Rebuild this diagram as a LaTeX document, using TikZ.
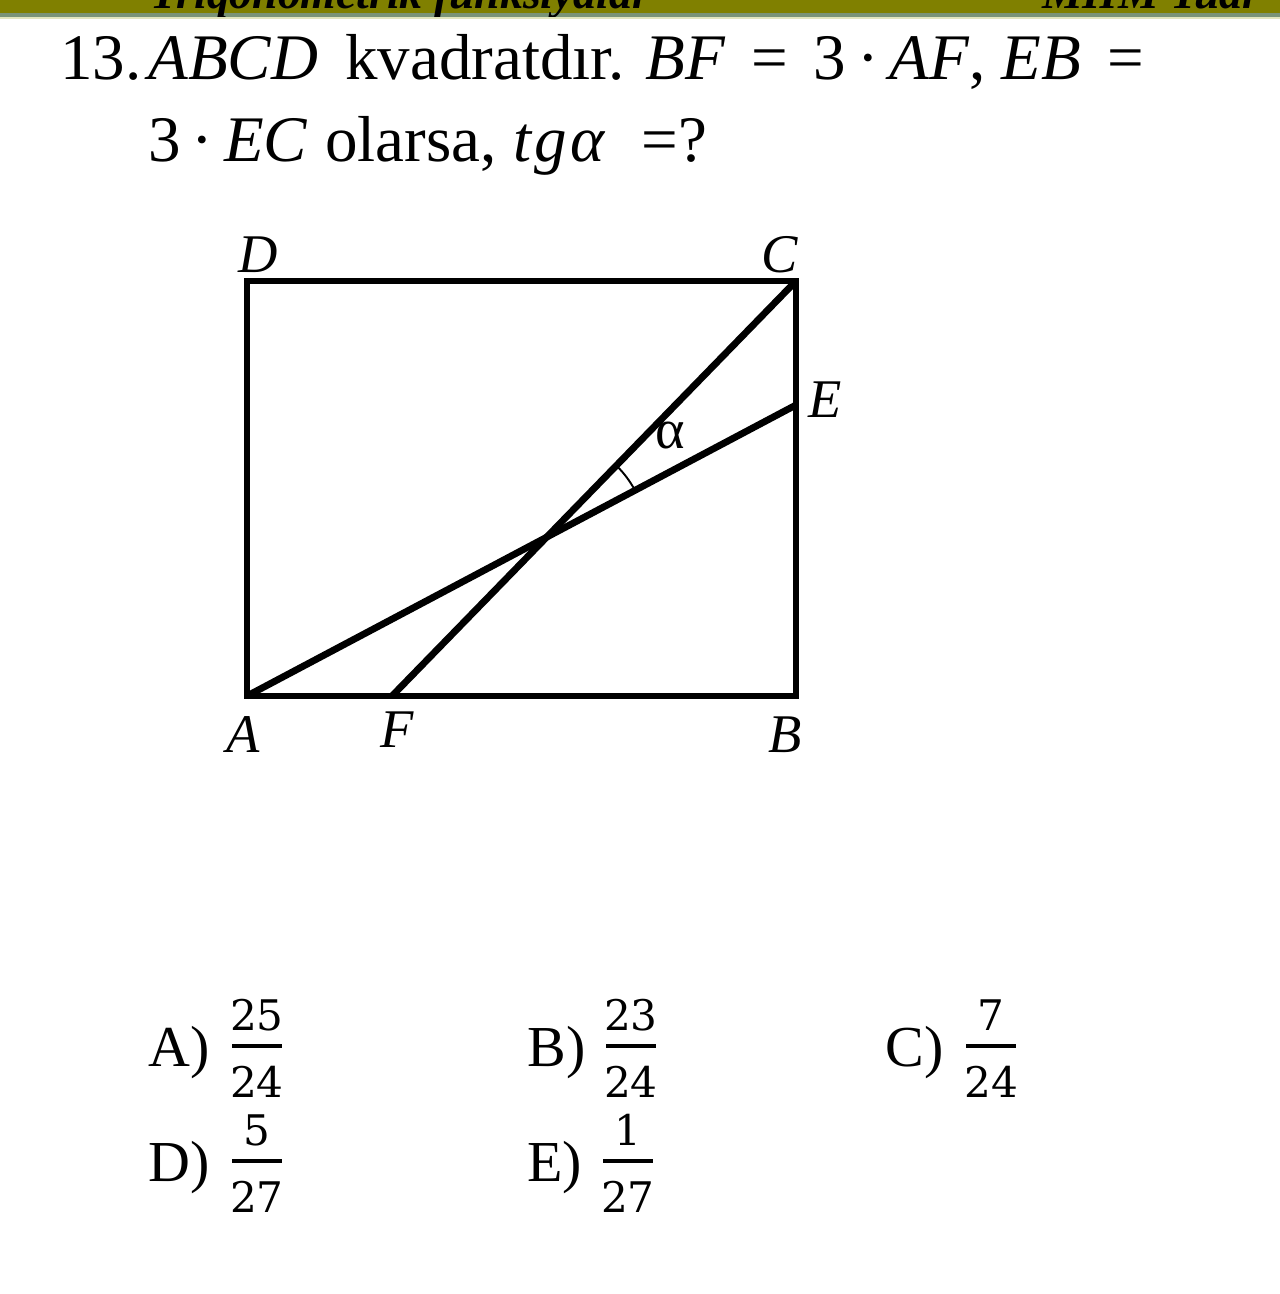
\documentclass[tikz,border=0pt]{standalone}
\usepackage{fontspec}
\setmainfont{Liberation Serif}
\newfontfamily\digitfont{DejaVu Serif}
\usetikzlibrary{angles, calc}
\definecolor{headolive}{RGB}{128,128,0}
\definecolor{headstripe}{RGB}{122,148,120}
\definecolor{headlight}{RGB}{226,230,190}
\newcommand{\eqsp}{\hspace{0.4em}}

\begin{document}
\begin{tikzpicture}[x=0.02cm, y=-0.02cm,
    edge/.style={line width=3.9pt, line join=miter},
    headtext/.style={font=\fontsize{26}{30}\selectfont\bfseries\itshape, anchor=base west, inner sep=0pt},
    qtext/.style={font=\fontsize{37}{44}\selectfont, anchor=base west, inner sep=0pt},
    ptlabel/.style={font=\fontsize{31}{36}\selectfont\itshape, inner sep=0pt},
    anstext/.style={font=\fontsize{33}{40}\selectfont, anchor=base west, inner sep=0pt},
    fractext/.style={font=\digitfont\fontsize{24}{28}\selectfont, anchor=base, inner sep=0pt}]

  % page
  \fill[white] (0,0) rectangle (1280,1294);
  \useasboundingbox (0,0) rectangle (1280,1294);

  % header bar (cut off at the top)
  \fill[headolive] (0,0) rectangle (1280,13);
  \fill[headstripe] (0,13) rectangle (1280,17);
  \fill[headlight] (0,17) rectangle (1280,19);
  \begin{scope}
    \clip (0,0) rectangle (1280,17);
    \node[headtext] (title) at (150,9) {Triqonometrik funksiyalar};
    \node[headtext] (series) at (1042,9) {MHM Yuar};
  \end{scope}

  % question
  \node[qtext] (qnum) at (60,80) {13.};
  \node[qtext] (qsq) at (148,80) {\textit{ABCD}};
  \node[qtext] (qword) at (345,80) {kvadratdır.};
  \node[qtext] (qcond) at (645,80)
    {\textit{BF}\eqsp=\eqsp3\,·\,\textit{AF}, \textit{EB}\eqsp=};
  \node[qtext] (qcond2) at (148,162) {3\,·\,\textit{EC}};
  \node[qtext] (qword2) at (325,162) {olarsa,};
  \node[qtext] (qask) at (513,162) {\textit{t\kern2pt g\kern2pt α}\hspace{0.55em}=?};

  % figure
  \coordinate (A) at (247,696);
  \coordinate (B) at (796,696);
  \coordinate (C) at (796,281);
  \coordinate (D) at (247,281);
  \coordinate (E) at (796,405);
  \coordinate (F) at (392,696);
  \draw[edge] (A) -- (B) -- (C) -- (D) -- cycle;
  \draw[edge] (A) -- (E);
  \draw[edge] (F) -- (C);
  \coordinate (P) at (intersection of A--E and F--C);
  \pic[draw, line width=1.1pt, angle radius=2cm] {angle=E--P--C};

  \node[ptlabel] (labD) at (258,255) {D};
  \node[ptlabel] (labC) at (780,255) {C};
  \node[ptlabel] (labE) at (825,400) {E};
  \node[ptlabel] (labA) at (243,735) {A};
  \node[ptlabel] (labF) at (397,730) {F};
  \node[ptlabel] (labB) at (785,735) {B};
  \node[font=\fontsize{32}{38}\selectfont, inner sep=0pt] (alpha) at (670,436) {α};

  % answers
  \foreach \n/\x/\fx/\y/\num/\den in {A/148/257/1046/25/24, B/527/631/1046/23/24,
      C/885/991/1046/7/24, D/148/257/1161/5/27, E/527/628/1161/1/27}{
    \node[anstext] (ans\n) at (\x,\y+20) {\n)};
    \node[fractext] (num\n) at (\fx,\y-16) {\num};
    \node[fractext] (den\n) at (\fx,\y+51) {\den};
    \draw[line width=2.2pt] (\fx-25,\y) -- (\fx+25,\y);
  }
\end{tikzpicture}
\end{document}
